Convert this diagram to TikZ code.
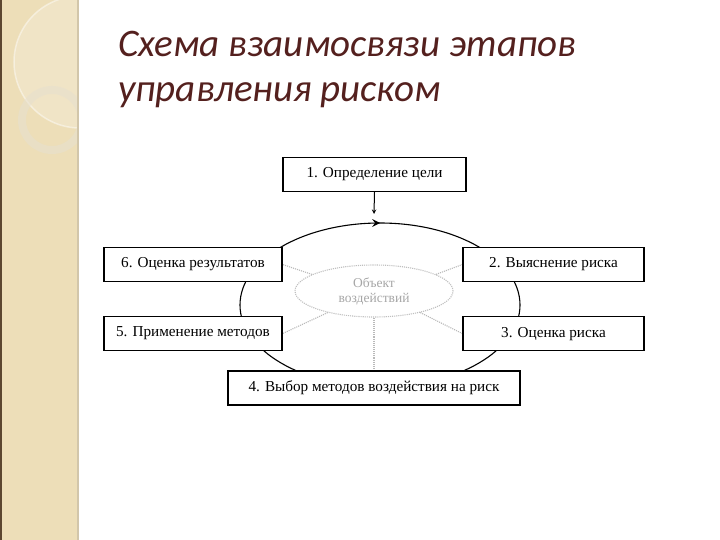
\documentclass[tikz,border=0pt]{standalone}
\usepackage{fontspec}
\setmainfont{Liberation Serif}
\newfontfamily\titlefont{Carlito}
\usetikzlibrary{shapes.geometric, arrows, calc, positioning, backgrounds, decorations.markings}
\definecolor{titlebrown}{RGB}{84,32,30}
\definecolor{stripbeige}{RGB}{237,222,184}
\definecolor{stripedge}{RGB}{92,70,48}
\tikzstyle{stage} = [rectangle, line width=1.1pt, minimum height=34pt, text centered, draw=black, fill=white, font=\fontsize{15.2}{17}\selectfont]
\tikzstyle{arrow} = [line width=1pt,->,>={stealth[scale=1.3]}]
\tikzstyle{spoke} = [gray!55, densely dotted, line width=1.1pt]
\tikzstyle{loopline} = [line width=1.1pt, postaction={decorate}, decoration={markings, mark=at position 0.75 with {\arrow[scale=1.6]{stealth}}}]
\tikzstyle{heading} = [anchor=base west, inner sep=0pt, text=titlebrown, font=\titlefont\itshape\fontsize{39}{44}\selectfont]

\begin{document}
\begin{tikzpicture}[x=1pt, y=-1pt, node distance = 34pt, auto]
		\useasboundingbox (0,0) rectangle (720,540);
		% side strip
		\fill[stripbeige] (0,0) rectangle (78,540);
		\begin{scope}
		\clip (0,0) rectangle (78,540);
		\fill[white, opacity=0.2] (80,62) circle (66);
		\draw[white, opacity=0.45, line width=1.5pt] (80,62) circle (66);
		\draw[stripbeige!80!gray!60!white, line width=8pt, opacity=0.6] (52,120) circle (30);
		\end{scope}
		\draw[stripedge, line width=2pt] (1,0) -- (1,540);
		\draw[stripbeige!75!gray, line width=1.5pt] (78,0) -- (78,540);
		
		\node (Title01) [heading] at (118,57) {Схема взаимосвязи этапов};
		\node (Title02) [heading] at (118,102) {управления риском};
		
		\node (Stage1) [stage, minimum width=183pt] at (374.5,174.5) {1. Определение цели};
		\node (Stage6) [stage, minimum width=178pt] at (193,264.5) {6. Оценка результатов};
		\node (Stage5) [stage, minimum width=178pt, below = of Stage6] {5. Применение методов};
		\node (Stage2) [stage, minimum width=181pt] at (553.5,264.5) {2. Выяснение риска};
		\node (Stage3) [stage, minimum width=181pt, below = of Stage2] {3. Оценка риска};
		\node (Stage4) [stage, minimum width=292pt] at (374,388) {4. Выбор методов воздействия на риск};
		
		\node (Object) [ellipse, draw=gray!50, densely dotted, line width=1.1pt, minimum width=158pt, minimum height=52pt, text=gray!70, align=center, font=\fontsize{13.5}{15}\selectfont] at (374,291) {Объект\\воздействий};
		\coordinate (Goal) at (374,214);
		
		\draw [arrow] (Stage1.south) -- (Goal);
		
		\begin{pgfonlayer}{background}
		\draw [loopline] (380,305) ellipse [x radius=140, y radius=82];
		\draw [spoke] (Object.165) -- (Stage6.east);
		\draw [spoke] (Object.15) -- (Stage2.west);
		\draw [spoke] (Object.205) -- (Stage5.east);
		\draw [spoke] (Object.335) -- (Stage3.west);
		\draw [spoke] (Object.south) -- (Stage4.north);
		\end{pgfonlayer}
		\end{tikzpicture}
\end{document}
